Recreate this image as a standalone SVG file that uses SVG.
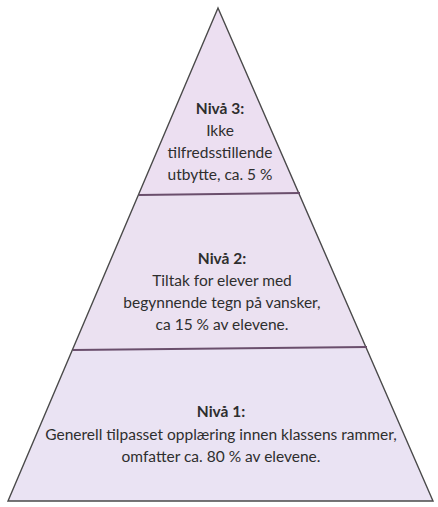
<svg xmlns="http://www.w3.org/2000/svg" width="438" height="507" viewBox="0 0 438 507">
<style>
.tier{stroke:none}
.edge{fill:none;stroke:#4a4a4a;stroke-width:1.4;stroke-linejoin:miter}
.div{fill:none;stroke:#6a4e6c;stroke-width:2}
text{font-family:Lato,"Liberation Sans",sans-serif;font-size:15.5px;fill:#2e2e2e;text-anchor:middle}
.h{font-weight:bold}
</style>
<rect width="438" height="507" fill="#ffffff"/>
<g id="level3">
<polygon class="tier" points="218,8 300,194 139,194" fill="#ecdff1"/>
<text x="220" y="114" class="h">Nivå 3:</text>
<text x="220" y="136">Ikke</text>
<text x="220" y="158">tilfredsstillende</text>
<text x="220" y="180">utbytte,  ca. 5 %</text>
</g>
<g id="level2">
<polygon class="tier" points="139,194 300,194 367,349 73,349" fill="#ebe1f1"/>
<text x="222" y="264" class="h">Nivå 2:</text>
<text x="222" y="286">Tiltak for elever med</text>
<text x="222" y="308">begynnende tegn på vansker,</text>
<text x="222" y="330">ca 15 % av elevene.</text>
</g>
<g id="level1">
<polygon class="tier" points="73,349 367,349 433,501 8,501" fill="#eae3f3"/>
<text x="221" y="417" class="h">Nivå 1:</text>
<text x="221" y="440">Generell tilpasset opplæring innen klassens rammer,</text>
<text x="221" y="462">omfatter ca. 80 % av elevene.</text>
</g>
<g id="connectors">
<polygon class="edge" points="218,8 433,501 8,501"/>
<line class="div" x1="139" y1="195" x2="300" y2="193"/>
<line class="div" x1="73" y1="350" x2="367" y2="347"/>
</g>
</svg>
